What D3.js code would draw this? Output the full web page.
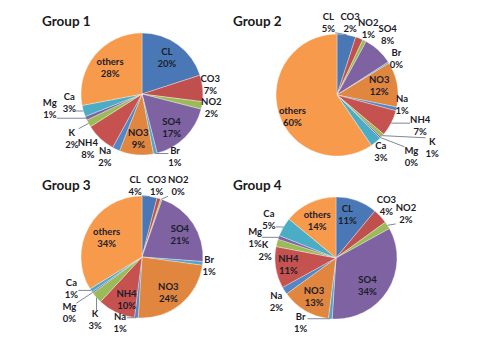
<!DOCTYPE html>
<html>
<head>
<meta charset="utf-8">
<script src="https://cdn.jsdelivr.net/npm/d3@7/dist/d3.min.js"></script>
<style>
  html, body { margin: 0; padding: 0; background: #ffffff; }
  svg { display: block; }
</style>
</head>
<body>
<svg id="chart" width="480" height="358"></svg>
<script>
// ---- data ----
const categories = ["CL", "CO3", "NO2", "SO4", "Br", "NO3", "Na", "NH4", "K", "Mg", "Ca", "others"];
const groupTitles = ["Group 1", "Group 2", "Group 3", "Group 4"];
const group1 = [20, 7, 2, 17, 1, 9, 2, 8, 2, 1, 3, 28];
const group2 = [5, 2, 1, 8, 0.4, 12, 1, 7, 1, 0.4, 3, 60];
const group3 = [4, 1, 0.4, 21, 1, 24, 1, 10, 3, 0.4, 1, 34];
const group4 = [11, 4, 2, 34, 1, 13, 2, 11, 2, 1, 5, 14];

// ---- styles / layout ----
const sliceColors = ["#4A78B6", "#C0504D", "#9BBB59", "#7E62A1", "#5AA2C6", "#E0863F",
                     "#5286C4", "#C65250", "#9BBB59", "#8064A2", "#4BACC6", "#F79A4C"];
const radius = 61;
const panels = [
  { title: groupTitles[0], values: group1, cx: 142, cy: 94, tx: 42, ty: 26 },
  { title: groupTitles[1], values: group2, cx: 337, cy: 95, tx: 233, ty: 26 },
  { title: groupTitles[2], values: group3, cx: 142, cy: 257, tx: 42, ty: 190 },
  { title: groupTitles[3], values: group4, cx: 336, cy: 258, tx: 233, ty: 190 }
];
// label placement: [radius factor, angle shift (deg) from slice mid-angle]
const labelLayouts = [
  [[0.73,-2],[1.13,-2.5],[1.16,0.6],[0.73,3.4],[1.16,-15.2],[0.74,-0.7],[1.19,5.5],[1.26,1.6],[1.36,-3.4],[1.53,14.6],[1.2,9.5],[0.68,0]],
  [[1.2,-15.7],[1.21,-11.2],[1.21,-1.7],[1.29,-2.8],[1.14,0.9],[0.71,-2.7],[1.08,-4.5],[1.45,-7.6],[1.78,-13],[1.58,-4.8],[1.17,1.8],[0.81,-8.5]],
  [[1.18,-12.7],[1.19,-4.4],[1.31,8.4],[0.72,2.8],[1.11,0.9],[0.73,3],[1.13,13.2],[0.74,-5],[1.28,-11.3],[1.5,-1.8],[1.27,8.9],[0.66,-0.8]],
  [[0.74,-5.2],[1.19,-2.8],[1.36,-0.1],[0.69,9.2],[1.2,23.5],[0.72,-0.6],[1.21,-3.6],[0.79,0.7],[1.17,-8.2],[1.37,-5.4],[1.27,-0.6],[0.69,-1.3]]
];

const svg = d3.select("#chart");
const pie = d3.pie().sort(null).value(d => d);
const arc = d3.arc().innerRadius(0).outerRadius(radius);
const fontFamily = "Lato, 'Open Sans', 'DejaVu Sans', sans-serif";

panels.forEach((p, gi) => {
  svg.append("text")
    .attr("x", p.tx).attr("y", p.ty)
    .attr("font-family", fontFamily)
    .attr("font-weight", "bold")
    .attr("font-size", 13.5)
    .attr("fill", "#1a1a1a")
    .text(p.title);

  const g = svg.append("g").attr("transform", `translate(${p.cx},${p.cy})`);
  const total = d3.sum(p.values);
  const arcs = pie(p.values);

  g.selectAll("path.slice")
    .data(arcs)
    .enter().append("path")
    .attr("class", "slice")
    .attr("d", arc)
    .attr("fill", (d, i) => sliceColors[i])
    .attr("stroke", "#ffffff")
    .attr("stroke-opacity", 0.55)
    .attr("stroke-width", 0.6);

  const leaders = g.append("g");
  const labels = g.append("g");

  arcs.forEach((d, i) => {
    const [rf, shift] = labelLayouts[gi][i];
    const mid = (d.startAngle + d.endAngle) / 2;
    const a = mid + shift * Math.PI / 180;
    const R = rf * radius;
    const lx = Math.sin(a) * R;
    const ly = -Math.cos(a) * R;
    const pct = Math.round(d.value / total * 100) + "%";

    const t = labels.append("text")
      .attr("font-family", fontFamily)
      .attr("font-weight", "bold")
      .attr("font-size", 9.5)
      .attr("fill", "#1c1c2a")
      .attr("text-anchor", "middle");
    t.append("tspan").attr("x", lx).attr("y", ly - 2.5).text(categories[i]);
    t.append("tspan").attr("x", lx).attr("y", ly + 9.5).text(pct);

    if (rf > 1) {
      const bb = t.node().getBBox();
      const ex = Math.sin(mid) * radius;
      const ey = -Math.cos(mid) * radius;
      const nx = Math.max(bb.x, Math.min(ex, bb.x + bb.width));
      const ny = Math.max(bb.y + 2, Math.min(ey, bb.y + bb.height - 1));
      const len = Math.hypot(nx - ex, ny - ey);
      if (len > 6) {
        leaders.append("line")
          .attr("x1", ex).attr("y1", ey)
          .attr("x2", nx).attr("y2", ny)
          .attr("stroke", "#5a6a80")
          .attr("stroke-width", 0.8);
      }
    }
  });
});
</script>
</body>
</html>
